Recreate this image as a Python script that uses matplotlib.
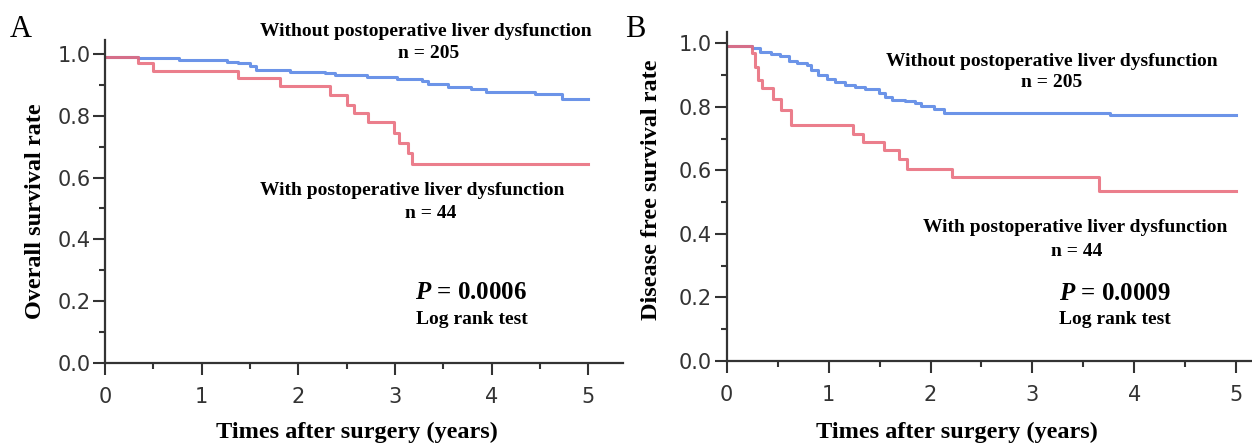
import numpy as np
import matplotlib
matplotlib.use("Agg")
import matplotlib.pyplot as plt
from matplotlib.ticker import MultipleLocator

# Panel A: overall survival (step times in years, survival rate)
os_without_t = [0, 0.34, 0.77, 1.26, 1.38, 1.50, 1.56, 1.91, 2.28, 2.38, 2.71, 3.02,
                3.28, 3.34, 3.55, 3.79, 3.94, 4.45, 4.73, 5.0]
os_without_s = [0.991, 0.987, 0.981, 0.975, 0.970, 0.960, 0.949, 0.943, 0.938, 0.932,
                0.924, 0.918, 0.911, 0.903, 0.894, 0.887, 0.878, 0.869, 0.855, 0.855]
os_with_t = [0, 0.34, 0.50, 1.38, 1.81, 2.33, 2.50, 2.57, 2.72, 2.99, 3.04, 3.13, 3.18, 5.0]
os_with_s = [0.991, 0.972, 0.946, 0.921, 0.895, 0.866, 0.836, 0.809, 0.780, 0.745,
             0.713, 0.679, 0.645, 0.645]

# Panel B: disease free survival
dfs_without_t = [0, 0.25, 0.33, 0.43, 0.52, 0.61, 0.69, 0.79, 0.83, 0.90, 0.98, 1.06,
                 1.16, 1.26, 1.36, 1.49, 1.55, 1.62, 1.75, 1.85, 1.91, 2.03, 2.13, 3.76, 5.0]
dfs_without_s = [0.990, 0.984, 0.974, 0.966, 0.960, 0.945, 0.939, 0.931, 0.916, 0.900,
                 0.889, 0.879, 0.868, 0.861, 0.855, 0.842, 0.831, 0.823, 0.818, 0.811,
                 0.802, 0.793, 0.782, 0.774, 0.774]
dfs_with_t = [0, 0.25, 0.28, 0.31, 0.35, 0.45, 0.53, 0.63, 1.24, 1.34, 1.54, 1.69, 1.77,
              2.21, 3.65, 5.0]
dfs_with_s = [0.990, 0.968, 0.926, 0.884, 0.858, 0.826, 0.789, 0.742, 0.716, 0.689,
              0.663, 0.637, 0.605, 0.579, 0.534, 0.534]

BLUE = "#5282e4"
RED = "#e86878"
SERIF = "Liberation Serif"

plt.rcParams["mathtext.fontset"] = "custom"
plt.rcParams["mathtext.bfit"] = "Liberation Serif:bold:italic"

fig = plt.figure(figsize=(12.52, 4.44), dpi=100)


def setup_axes(ax, xmax, ymax):
    ax.set_xlim(0, xmax)
    ax.set_ylim(0, ymax)
    for side in ["top", "right"]:
        ax.spines[side].set_visible(False)
    for side in ["left", "bottom"]:
        ax.spines[side].set_linewidth(1.6)
        ax.spines[side].set_color("#333333")
    ax.xaxis.set_minor_locator(MultipleLocator(0.5))
    ax.yaxis.set_minor_locator(MultipleLocator(0.1))
    ax.set_xticks(range(6))
    ax.set_yticks([0, 0.2, 0.4, 0.6, 0.8, 1.0])
    ax.set_yticklabels(["0.0", "0.2", "0.4", "0.6", "0.8", "1.0"])
    ax.tick_params(which="major", length=8.5, width=1.5, color="#333333",
                   labelsize=15, labelcolor="#333333")
    ax.tick_params(which="minor", length=4.3, width=1.5, color="#333333")
    ax.tick_params(axis="x", pad=9)
    ax.tick_params(axis="y", pad=2)


def add_curves(ax, t1, s1, t2, s2):
    ax.step(t1, s1, where="post", color=BLUE, linewidth=2.2, alpha=0.85)
    ax.step(t2, s2, where="post", color=RED, linewidth=2.2, alpha=0.85)


def add_texts(ax, pos, pval):
    kw = dict(family=SERIF, fontweight="bold", ha="center", va="center", fontsize=14)
    ax.text(*pos["without"], "Without postoperative liver dysfunction", **kw)
    ax.text(*pos["n205"], "n = 205", **kw)
    ax.text(*pos["with"], "With postoperative liver dysfunction", **kw)
    ax.text(*pos["n44"], "n = 44", **kw)
    ax.text(*pos["p"], r"$\mathbfit{P}$ = " + pval, family=SERIF, fontweight="bold",
            ha="center", va="center", fontsize=18)
    ax.text(*pos["logrank"], "Log rank test", **kw)


# Panel A
axA = fig.add_axes([0.08387, 0.18243, 0.41374, 0.72748])
setup_axes(axA, 5.357, 1.045)
add_curves(axA, os_without_t, os_without_s, os_with_t, os_with_s)
add_texts(axA, {"without": (3.32, 1.071), "n205": (3.35, 1.0),
                "with": (3.18, 0.558), "n44": (3.37, 0.484),
                "p": (3.79, 0.228), "logrank": (3.79, 0.142)}, "0.0006")
axA.set_xlabel("Times after surgery (years)", family=SERIF, fontweight="bold", fontsize=17.5)
axA.set_ylabel("Overall survival rate", family=SERIF, fontweight="bold", fontsize=17.5)
axA.xaxis.set_label_coords(0.487, -0.183)
axA.yaxis.set_label_coords(-0.114, 0.47)

# Panel B
axB = fig.add_axes([0.58043, 0.18694, 0.41957, 0.74167])
setup_axes(axB, 5.155, 1.0365)
add_curves(axB, dfs_without_t, dfs_without_s, dfs_with_t, dfs_with_s)
add_texts(axB, {"without": (3.19, 0.944), "n205": (3.19, 0.876),
                "with": (3.42, 0.421), "n44": (3.43, 0.344),
                "p": (3.81, 0.213), "logrank": (3.81, 0.131)}, "0.0009")
axB.set_xlabel("Times after surgery (years)", family=SERIF, fontweight="bold", fontsize=17.5)
axB.set_ylabel("Disease free survival rate", family=SERIF, fontweight="bold", fontsize=17.5)
axB.xaxis.set_label_coords(0.438, -0.185)
axB.yaxis.set_label_coords(-0.123, 0.52)

fig.text(0.008, 0.9167, "A", family=SERIF, fontsize=22, va="baseline", ha="left")
fig.text(0.4992, 0.9167, "B", family=SERIF, fontsize=22, va="baseline", ha="left")

fig.savefig("out.png", dpi=100)
